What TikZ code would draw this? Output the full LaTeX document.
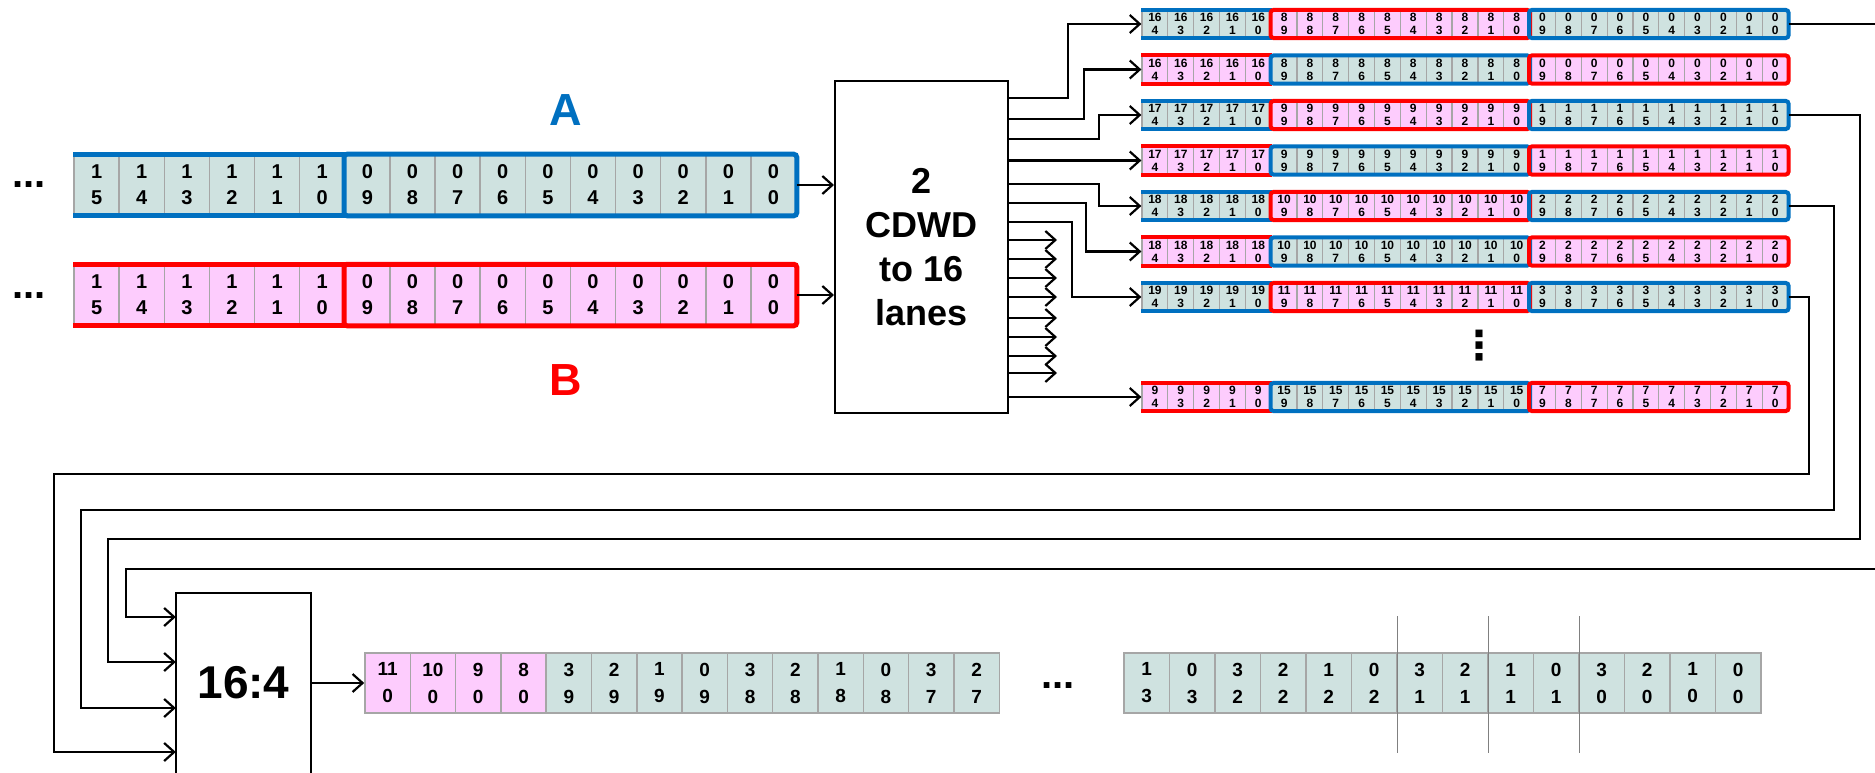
\documentclass[tikz,border=0pt]{standalone}
\usepackage{fontspec}
\setmainfont{Liberation Sans}
\newfontfamily\symfont{DejaVu Sans}
\usetikzlibrary{arrows.meta, positioning}
\definecolor{laneblue}{RGB}{0,112,192}
\definecolor{lanered}{RGB}{255,0,0}
\definecolor{tealfill}{RGB}{207,226,224}
\definecolor{pinkfill}{RGB}{253,204,253}
\definecolor{cellgray}{RGB}{166,166,166}
\colorlet{bline}{laneblue}
\colorlet{rline}{lanered}
\colorlet{bfill}{tealfill}
\colorlet{rfill}{pinkfill}

% one lane row: name, y, numbers of the three groups, outer / inner colour
\newcommand{\lanerow}[7]{%
  \foreach \k [evaluate=\k as \lo using {int(4-\k)}] in {0,...,4}
    \node[lanecell, fill=#6fill] (#1p\k) at ({1142+25.84*(\k+0.5)},#2) {#3\\\lo};
  \foreach \k [evaluate=\k as \lo using {int(9-\k)}] in {0,...,9}
    \node[lanecell, fill=#7fill] (#1m\k) at ({1142+25.84*(\k+5.5)},#2) {#4\\\lo};
  \foreach \k [evaluate=\k as \lo using {int(9-\k)}] in {0,...,9}
    \node[lanecell, fill=#6fill] (#1l\k) at ({1142+25.84*(\k+15.5)},#2) {#5\\\lo};
  \draw[seg, #6line] (#1p0.north west) -- (#1p4.north east);
  \draw[seg, #6line] (#1p0.south west) -- (#1p4.south east);
  \draw[seg, #7line, rounded corners=3pt] (#1m0.north west) rectangle (#1m9.south east);
  \draw[seg, #6line, rounded corners=3pt] (#1l0.north west) rectangle (#1l9.south east);
}

\begin{document}
\begin{tikzpicture}[
    x=1pt, y=-1pt,
    bigcell/.style={draw=cellgray, line width=1.5pt, inner sep=0pt,
                    minimum width=45.125pt, minimum height=60pt, align=center,
                    font=\bfseries\fontsize{20}{26}\selectfont},
    outcell/.style={bigcell, minimum width=45.4pt, fill=tealfill,
                    font=\bfseries\fontsize{19}{27}\selectfont},
    lanecell/.style={draw=cellgray, line width=1.2pt, inner sep=0pt,
                     minimum width=25.84pt, minimum height=27pt, align=center,
                     font=\bfseries\fontsize{12}{13}\selectfont},
    seg/.style={line width=4pt},
    bigseg/.style={line width=5pt},
    dots/.style={inner sep=0pt, font=\bfseries\fontsize{40}{40}\selectfont},
    conn/.style={line width=2.2pt},
    arr/.style={conn, -{Straight Barb[length=10pt, width=18pt]}},
    sepline/.style={draw=gray, line width=1.3pt}
  ]
  \useasboundingbox (0,0) rectangle (1875,773);

  % input words
  \foreach \t/\b [count=\i from 0] in {1/5,1/4,1/3,1/2,1/1,1/0,0/9,0/8,0/7,0/6,0/5,0/4,0/3,0/2,0/1,0/0}
    \node[bigcell, fill=tealfill] (a\i) at ({74+45.125*(\i+0.5)},185) {\t\\\b};
  \foreach \t/\b [count=\i from 0] in {1/5,1/4,1/3,1/2,1/1,1/0,0/9,0/8,0/7,0/6,0/5,0/4,0/3,0/2,0/1,0/0}
    \node[bigcell, fill=pinkfill] (b\i) at ({74+45.125*(\i+0.5)},295) {\t\\\b};
  \draw[bigseg, laneblue] (a0.north west) -- (a5.north east);
  \draw[bigseg, laneblue] (a0.south west) -- (a5.south east);
  \draw[bigseg, laneblue, rounded corners=3pt] (a6.north west) rectangle (a15.south east);
  \draw[bigseg, lanered] (b0.north west) -- (b5.north east);
  \draw[bigseg, lanered] (b0.south west) -- (b5.south east);
  \draw[bigseg, lanered, rounded corners=3pt] (b6.north west) rectangle (b15.south east);
  \node[dots, anchor=base west] (dotsa) at (12,188) {...};
  \node[dots, anchor=base west] (dotsb) at (12,298) {...};
  \node[font=\bfseries\fontsize{45}{45}\selectfont, text=laneblue] (laba) at (566,110) {A};
  \node[font=\bfseries\fontsize{45}{45}\selectfont, text=lanered] (labb) at (566,380) {B};

  \node[draw, line width=2pt, minimum width=173pt, minimum height=332pt, align=center,
        font=\bfseries\fontsize{36}{44}\selectfont] (cdwd) at (921.5,247) {2\\CDWD\\to 16\\lanes};
  \draw[arr] (a15.east) -- (a15.east -| cdwd.west);
  \draw[arr] (b15.east) -- (b15.east -| cdwd.west);

  % lanes
  \lanerow{r1}{24}{16}{8}{0}{b}{r}
  \lanerow{r2}{69.5}{16}{8}{0}{r}{b}
  \lanerow{r3}{115}{17}{9}{1}{b}{r}
  \lanerow{r4}{160.5}{17}{9}{1}{r}{b}
  \lanerow{r5}{206}{18}{10}{2}{b}{r}
  \lanerow{r6}{251.5}{18}{10}{2}{r}{b}
  \lanerow{r7}{297}{19}{11}{3}{b}{r}
  \lanerow{rl}{397}{9}{15}{7}{r}{b}
  \node[inner sep=0pt, font=\symfont\bfseries\fontsize{40}{40}\selectfont] (vdots) at (1479,346) {⋮};

  \draw[arr] (cdwd.east |- 0,98) -- ++(59,0) |- (r1p0.west);
  \draw[arr] (cdwd.east |- 0,119) -- ++(75,0) |- (r2p0.west);
  \draw[arr] (cdwd.east |- 0,139) -- ++(90,0) |- (r3p0.west);
  \draw[arr] (cdwd.east |- r4p0.west) -- (r4p0.west);
  \draw[arr] (cdwd.east |- 0,184) -- ++(90,0) |- (r5p0.west);
  \draw[arr] (cdwd.east |- 0,203) -- ++(77,0) |- (r6p0.west);
  \draw[arr] (cdwd.east |- 0,222) -- ++(63,0) |- (r7p0.west);
  \draw[arr] (cdwd.east |- rlp0.west) -- (rlp0.west);
  \foreach \y [count=\i] in {240,259,278,297,318,337,356,373} {
    \coordinate (stub\i) at (1057,\y);
    \draw[arr] (cdwd.east |- stub\i) -- (stub\i);
  }

  % 16:4 mux and result
  \node[minimum width=135pt, minimum height=180pt,
        font=\bfseries\fontsize{46}{46}\selectfont] (mux) at (243.5,683) {16:4};
  \draw[line width=2pt] (mux.south west) |- (mux.north east) -- (mux.south east);

  \coordinate (exit1) at (1875,24);
  \coordinate (entry1) at (1875,569);
  \draw[conn] (r1l9.east) -- (exit1);
  \draw[arr] (r3l9.east) -| (1860,539) -| (108,662) -- (mux.west |- 0,662);
  \draw[arr] (r5l9.east) -| (1834,510) -| (81,708) -- (mux.west |- 0,708);
  \draw[arr] (r7l9.east) -| (1809,474) -| (54,752) -- (mux.west |- 0,752);
  \draw[arr] (entry1) -| (126,617) -- (mux.west |- 0,617);

  \foreach \t/\b [count=\i from 0] in {11/0,10/0,9/0,8/0}
    \node[outcell, fill=pinkfill] (o1c\i) at ({365+45.3*(\i+0.5)},683) {\t\\\b};
  \foreach \t/\b [count=\i from 4] in {3/9,2/9,1/9,0/9,3/8,2/8,1/8,0/8,3/7,2/7}
    \node[outcell] (o1c\i) at ({365+45.3*(\i+0.5)},683) {\t\\\b};
  \draw[arr] (mux.east) -- (o1c0.west);
  \node[dots, anchor=base] (dotso) at (1058,688) {...};
  \foreach \t/\b [count=\i from 0] in {1/3,0/3,3/2,2/2,1/2,0/2,3/1,2/1,1/1,0/1,3/0,2/0,1/0,0/0}
    \node[outcell] (o2c\i) at ({1124+45.5*(\i+0.5)},683) {\t\\\b};
  \foreach \c in {5,7,9}
    \draw[sepline] (o2c\c.east |- 0,616) -- (o2c\c.east |- 0,753);
\end{tikzpicture}
\end{document}
